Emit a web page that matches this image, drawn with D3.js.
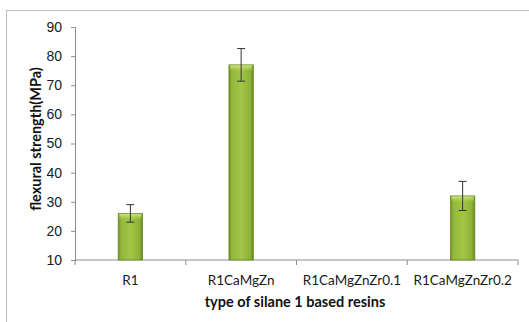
<!DOCTYPE html>
<html>
<head>
<meta charset="utf-8">
<script src="https://cdn.jsdelivr.net/npm/d3@7"></script>
<style>
  body { margin: 0; background: #fff; }
  svg { display: block; font-family: Lato, "Open Sans", sans-serif; }
  .tick text { fill: #1a1a1a; font-size: 14px; }
  .axis-title { font-weight: bold; font-size: 14.5px; fill: #111; }
</style>
</head>
<body>
<div id="chart"></div>
<script>
// Chart data
const categories = ["R1", "R1CaMgZn", "R1CaMgZnZr0.1", "R1CaMgZnZr0.2"];
const strength = [26, 77, null, 32];      // mean flexural strength (MPa)
const strengthErr = [3, 5.6, null, 5];    // error bar half-length
const yTicks = [10, 20, 30, 40, 50, 60, 70, 80, 90];

const width = 529, height = 322;
const margin = { top: 27, right: 11, bottom: 62, left: 75 };

const svg = d3.select("#chart").append("svg")
    .attr("width", width)
    .attr("height", height);

// outer chart-area frame
svg.append("rect")
    .attr("x", 6.5).attr("y", 10.5)
    .attr("width", width + 10).attr("height", height)
    .attr("fill", "none")
    .attr("stroke", "#bdbdbd");

// bevel-ish gradient for bars
const defs = svg.append("defs");
const grad = defs.append("linearGradient").attr("id", "barGrad")
    .attr("x1", 0).attr("x2", 1).attr("y1", 0).attr("y2", 0);
grad.append("stop").attr("offset", "0%").attr("stop-color", "#6f8f26");
grad.append("stop").attr("offset", "12%").attr("stop-color", "#92b83b");
grad.append("stop").attr("offset", "50%").attr("stop-color", "#a2c645");
grad.append("stop").attr("offset", "88%").attr("stop-color", "#8cb137");
grad.append("stop").attr("offset", "100%").attr("stop-color", "#66851f");
const topGrad = defs.append("linearGradient").attr("id", "topGrad")
    .attr("x1", 0).attr("x2", 0).attr("y1", 0).attr("y2", 1);
topGrad.append("stop").attr("offset", "0%").attr("stop-color", "#d4ea8a").attr("stop-opacity", 0.9);
topGrad.append("stop").attr("offset", "100%").attr("stop-color", "#b8d862").attr("stop-opacity", 0);

const x = d3.scaleBand()
    .domain(categories)
    .range([margin.left, width - margin.right])
    .paddingInner(0.78)
    .paddingOuter(0.39);

const y = d3.scaleLinear()
    .domain([10, 90])
    .range([height - margin.bottom, margin.top]);

// y axis
const yAxis = svg.append("g")
    .attr("transform", `translate(${margin.left},0)`)
    .call(d3.axisLeft(y).tickValues(yTicks).tickSize(4).tickPadding(9));
yAxis.select(".domain").attr("stroke", "#8c8c8c");
yAxis.selectAll(".tick line").attr("stroke", "#8c8c8c");

// x axis: ticks at category boundaries
const bandW = (width - margin.right - margin.left) / categories.length;
const xAxis = svg.append("g")
    .attr("transform", `translate(0,${height - margin.bottom})`);
xAxis.append("line")
    .attr("x1", margin.left).attr("x2", width - margin.right)
    .attr("stroke", "#8c8c8c");
xAxis.selectAll(".btick")
    .data(d3.range(categories.length + 1))
    .join("line")
    .attr("x1", i => margin.left + i * bandW)
    .attr("x2", i => margin.left + i * bandW)
    .attr("y1", 0).attr("y2", 5)
    .attr("stroke", "#8c8c8c");
xAxis.selectAll("text")
    .data(categories)
    .join("text")
    .attr("x", d => x(d) + x.bandwidth() / 2)
    .attr("y", 25)
    .attr("text-anchor", "middle")
    .style("font-size", "13.5px")
    .style("fill", "#1a1a1a")
    .text(d => d);

// bars
const barData = categories.map((c, i) => ({ c, v: strength[i], e: strengthErr[i] }))
    .filter(d => d.v != null);

svg.selectAll(".bar")
    .data(barData)
    .join("rect")
    .attr("class", "bar")
    .attr("x", d => x(d.c))
    .attr("y", d => y(d.v))
    .attr("width", x.bandwidth())
    .attr("height", d => y(10) - y(d.v))
    .attr("fill", "url(#barGrad)")
    .attr("stroke", "#6b8a25")
    .attr("stroke-width", 0.8);

svg.selectAll(".bartop")
    .data(barData)
    .join("rect")
    .attr("x", d => x(d.c) + 1)
    .attr("y", d => y(d.v) + 0.5)
    .attr("width", x.bandwidth() - 2)
    .attr("height", 6)
    .attr("fill", "url(#topGrad)");

// error bars
const err = svg.selectAll(".err")
    .data(barData)
    .join("g")
    .attr("stroke", "#333")
    .attr("stroke-width", 1);
err.append("line")
    .attr("x1", d => x(d.c) + x.bandwidth() / 2)
    .attr("x2", d => x(d.c) + x.bandwidth() / 2)
    .attr("y1", d => y(d.v + d.e))
    .attr("y2", d => y(d.v - d.e));
[1, -1].forEach(s => {
    err.append("line")
        .attr("x1", d => x(d.c) + x.bandwidth() / 2 - 4)
        .attr("x2", d => x(d.c) + x.bandwidth() / 2 + 4)
        .attr("y1", d => y(d.v + s * d.e))
        .attr("y2", d => y(d.v + s * d.e));
});

// axis titles
svg.append("text")
    .attr("class", "axis-title")
    .attr("transform", "translate(41,139) rotate(-90)")
    .attr("text-anchor", "middle")
    .text("flexural strength(MPa)");

svg.append("text")
    .attr("class", "axis-title")
    .attr("x", 295)
    .attr("y", 307)
    .attr("text-anchor", "middle")
    .text("type of silane 1 based resins");
</script>
</body>
</html>
